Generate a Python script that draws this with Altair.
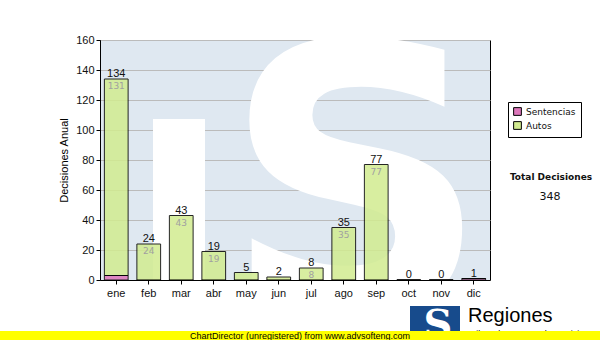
import altair as alt
import pandas as pd

months = ["ene", "feb", "mar", "abr", "may", "jun", "jul", "ago", "sep", "oct", "nov", "dic"]
sentencias = [3, 0, 0, 0, 0, 0, 0, 0, 0, 0, 0, 1]
autos = [131, 24, 43, 19, 5, 2, 8, 35, 77, 0, 0, 0]
series = ["Sentencias", "Autos"]
y_ticks = [0, 20, 40, 60, 80, 100, 120, 140, 160]
total_label = "Total Decisiones"
footer = "ChartDirector (unregistered) from www.advsofteng.com"
logo_title = "Regiones"
logo_sub = "Tribunal Supremo de Justicia"

rows = []
for m, s, a in zip(months, sentencias, autos):
    rows.append({"mes": m, "serie": "Sentencias", "valor": s, "ord": 0})
    rows.append({"mes": m, "serie": "Autos", "valor": a, "ord": 1})
df = pd.DataFrame(rows)

tot = pd.DataFrame({"mes": months,
                    "total": [s + a for s, a in zip(sentencias, autos)],
                    "autos": autos})
inner = tot[tot["autos"] >= 8].copy()
grand_total = int(tot["total"].sum())

one = pd.DataFrame({"t": [0]})

xaxis = alt.Axis(labelAngle=0, labelFontSize=11, labelFont="Liberation Sans",
                 labelColor="#111", tickColor="black", domainColor="black",
                 tickSize=4, labelPadding=3, labelOverlap=False)
yaxis = alt.Axis(values=y_ticks, labelFontSize=11, labelFont="Liberation Sans",
                 labelColor="#111", tickColor="black", domainColor="black",
                 tickSize=4, gridColor="#bbbbbb", titleFontSize=11,
                 titleFont="Liberation Sans", titleFontWeight="normal",
                 titleColor="black", titlePadding=6, labelOverlap=False)
yscale = alt.Scale(domain=[0, 160])


def xenc():
    return alt.X("mes:N", sort=months, title=None,
                 scale=alt.Scale(paddingInner=0.27), axis=xaxis)


def yenc(field, stack=None):
    if stack:
        return alt.Y(field, stack=stack, scale=yscale, title="Decisiones Anual", axis=yaxis)
    return alt.Y(field, scale=yscale, title="Decisiones Anual", axis=yaxis)


# background decoration (watermark logo)
bg_white = alt.Chart(one).mark_rect(color="white").encode(
    x=alt.value(53), x2=alt.value(105), y=alt.value(79), y2=alt.value(240))
bg_s = alt.Chart(one).mark_text(text="S", font="DejaVu Sans", fontWeight="bold",
                                fontSize=370, color="white", baseline="alphabetic",
                                align="center", clip=True).encode(
    x=alt.value(256), y=alt.value(271))

bars = alt.Chart(df).mark_bar(stroke="black", strokeWidth=1, opacity=0.85).encode(
    x=xenc(),
    y=yenc("valor:Q", stack="zero"),
    color=alt.Color("serie:N", scale=alt.Scale(domain=series, range=["#dd77bb", "#d2ec90"]),
                    legend=alt.Legend(orient="none", legendX=408, legendY=62, title=None,
                                      symbolType="square", strokeColor="black", padding=5,
                                      labelFontSize=9, labelFont="DejaVu Sans",
                                      symbolSize=60, symbolStrokeColor="black",
                                      symbolStrokeWidth=1, rowPadding=1, fillColor="white",
                                      labelColor="#111", symbolOpacity=1)),
    order=alt.Order("ord:Q"),
)

top_labels = alt.Chart(tot).mark_text(baseline="alphabetic", dy=-2, fontSize=11,
                                      font="Liberation Sans", color="#111").encode(
    x=xenc(), y=yenc("total:Q"), text="total:Q")

inner_labels = alt.Chart(inner).mark_text(baseline="top", dy=3, fontSize=9,
                                          font="DejaVu Sans", color="#a0a0a0").encode(
    x=xenc(), y=yenc("total:Q"), text="autos:Q")

total_t = alt.Chart(one).mark_text(text=total_label, fontSize=9, fontWeight="bold",
                                   font="DejaVu Sans", color="#111", align="center",
                                   baseline="middle").encode(
    x=alt.value(451), y=alt.value(137))
total_v = alt.Chart(one).mark_text(text=str(grand_total), fontSize=11,
                                   font="DejaVu Sans", color="#111", align="center",
                                   baseline="middle").encode(
    x=alt.value(450), y=alt.value(157))

logo_box = alt.Chart(one).mark_rect(color="#174b8c").encode(
    x=alt.value(310), x2=alt.value(360), y=alt.value(266), y2=alt.value(300))
logo_s = alt.Chart(one).mark_text(text="S", fontSize=40, fontWeight="bold",
                                  font="DejaVu Serif", color="white", align="center",
                                  baseline="alphabetic").encode(
    x=alt.value(338), y=alt.value(298))
logo_t = alt.Chart(one).mark_text(text=logo_title, fontSize=20, font="Liberation Sans",
                                  color="black", align="left",
                                  baseline="alphabetic").encode(
    x=alt.value(368), y=alt.value(282))
logo_st = alt.Chart(one).mark_text(text=logo_sub, fontSize=9, font="Liberation Sans",
                                   color="black", align="left",
                                   baseline="alphabetic").encode(
    x=alt.value(368), y=alt.value(297))
band = alt.Chart(one).mark_rect(color="#ffff00").encode(
    x=alt.value(-100), x2=alt.value(500), y=alt.value(291), y2=alt.value(300))
foot = alt.Chart(one).mark_text(text=footer, fontSize=9, font="Liberation Sans",
                                color="black", align="center",
                                baseline="middle").encode(
    x=alt.value(200), y=alt.value(295.5))

chart = alt.layer(bg_white, bg_s, bars, top_labels, inner_labels, total_t, total_v,
                  logo_box, logo_s, logo_t, logo_st, band, foot).properties(
    width=390, height=240,
    autosize=alt.AutoSizeParams(type="none"),
    padding={"left": 100, "top": 40, "right": 110, "bottom": 60},
    background="white",
).configure_view(fill="#dfe8f1", stroke="black", strokeWidth=1)

chart.save("out.html", embed_options={"renderer": "svg", "actions": False})
